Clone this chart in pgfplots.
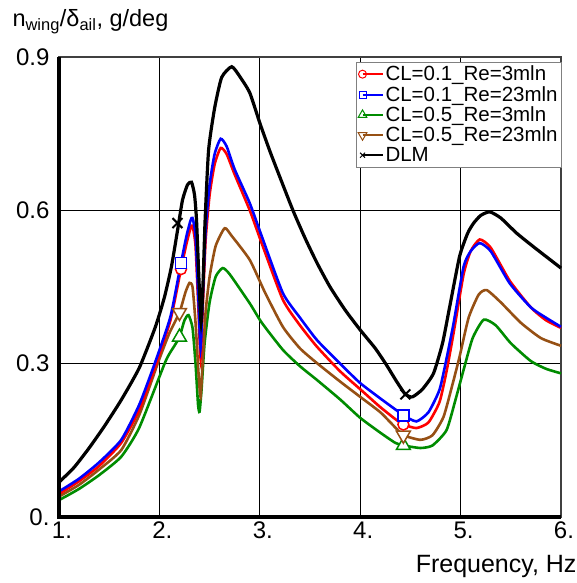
\documentclass[border=0pt]{standalone}
\usepackage{pgfplots}
\pgfplotsset{compat=1.18}
\usepackage{fontspec}
\setmainfont{Liberation Sans}
\definecolor{cgreen}{RGB}{0,140,0}
\definecolor{cbrown}{RGB}{150,80,20}
\pgfplotstableread{
x y
1.00 0.068
1.15 0.097
1.30 0.135
1.45 0.177
1.62 0.229
1.80 0.292
1.96 0.372
2.05 0.430
2.12 0.490
2.18 0.560
2.23 0.620
2.28 0.650
2.32 0.655
2.35 0.630
2.37 0.580
2.395 0.460
2.415 0.380
2.435 0.460
2.455 0.580
2.49 0.718
2.55 0.800
2.62 0.860
2.72 0.881
2.80 0.862
2.90 0.830
3.00 0.771
3.10 0.716
3.20 0.665
3.33 0.600
3.45 0.546
3.57 0.497
3.70 0.450
3.85 0.405
4.00 0.366
4.15 0.330
4.26 0.298
4.36 0.266
4.45 0.240
4.52 0.235
4.62 0.250
4.73 0.281
4.82 0.340
4.89 0.410
4.99 0.510
5.07 0.555
5.13 0.575
5.20 0.590
5.29 0.597
5.40 0.585
5.56 0.555
5.75 0.525
6.00 0.487
}\dlm
\pgfplotstableread{
x y
1.00 0.050
1.20 0.075
1.40 0.107
1.62 0.151
1.80 0.220
1.96 0.304
2.11 0.392
2.215 0.497
2.27 0.550
2.31 0.580
2.33 0.585
2.36 0.550
2.39 0.420
2.41 0.330
2.43 0.420
2.46 0.560
2.50 0.650
2.55 0.710
2.61 0.740
2.67 0.725
2.75 0.680
2.90 0.614
3.02 0.549
3.23 0.438
3.40 0.390
3.57 0.346
3.80 0.300
4.00 0.262
4.20 0.232
4.36 0.209
4.43 0.199
4.56 0.187
4.68 0.205
4.79 0.249
4.86 0.310
4.93 0.379
5.03 0.490
5.10 0.520
5.19 0.536
5.30 0.520
5.49 0.457
5.70 0.410
5.85 0.390
6.00 0.372
}\blueA
\pgfplotstableread{
x y
1.00 0.045
1.20 0.070
1.40 0.100
1.62 0.145
1.80 0.210
1.96 0.295
2.11 0.385
2.215 0.485
2.27 0.535
2.31 0.565
2.33 0.570
2.36 0.530
2.39 0.400
2.41 0.310
2.43 0.400
2.46 0.540
2.50 0.630
2.55 0.690
2.61 0.722
2.67 0.710
2.75 0.670
2.90 0.600
3.02 0.535
3.23 0.425
3.40 0.375
3.57 0.333
3.80 0.285
4.00 0.250
4.20 0.215
4.36 0.190
4.43 0.181
4.56 0.174
4.68 0.185
4.79 0.225
4.86 0.285
4.93 0.360
5.03 0.475
5.10 0.520
5.19 0.543
5.30 0.527
5.49 0.462
5.70 0.410
5.85 0.385
6.00 0.370
}\redA
\pgfplotstableread{
x y
1.00 0.040
1.20 0.063
1.40 0.093
1.62 0.131
1.80 0.200
1.99 0.304
2.10 0.360
2.20 0.400
2.26 0.440
2.30 0.458
2.33 0.450
2.36 0.380
2.39 0.280
2.41 0.235
2.43 0.300
2.46 0.400
2.50 0.470
2.56 0.530
2.65 0.565
2.72 0.550
2.90 0.503
3.05 0.440
3.23 0.372
3.40 0.330
3.57 0.301
3.80 0.265
4.00 0.235
4.20 0.205
4.35 0.175
4.43 0.160
4.60 0.151
4.72 0.160
4.83 0.196
4.92 0.260
4.99 0.314
5.08 0.390
5.18 0.435
5.26 0.444
5.40 0.420
5.60 0.380
5.80 0.350
6.00 0.335
}\brownA
\pgfplotstableread{
x y
1.00 0.033
1.20 0.055
1.40 0.082
1.62 0.118
1.80 0.175
2.06 0.304
2.15 0.335
2.20 0.352
2.25 0.385
2.29 0.395
2.33 0.370
2.36 0.300
2.385 0.220
2.40 0.206
2.42 0.250
2.45 0.340
2.50 0.420
2.56 0.470
2.63 0.487
2.70 0.475
2.90 0.418
3.02 0.380
3.23 0.327
3.40 0.295
3.57 0.268
3.80 0.230
4.00 0.194
4.20 0.165
4.35 0.145
4.43 0.140
4.60 0.135
4.72 0.140
4.86 0.170
4.95 0.230
5.03 0.288
5.12 0.350
5.23 0.386
5.35 0.375
5.50 0.340
5.70 0.305
5.85 0.290
6.00 0.281
}\greenA
\begin{document}
\begin{tikzpicture}
\useasboundingbox (-59pt,-66pt) rectangle (517pt,517pt);
\begin{axis}[
 at={(0pt,0pt)}, anchor=south west,
 scale only axis, width=502pt, height=460pt,
 xmin=1, xmax=6, ymin=0, ymax=0.9,
 clip=false,
 xtick={1,2,3,4,5,6}, xticklabels={1.,2.,3.,4.,5.,6.},
 ytick={0,0.3,0.6,0.9}, yticklabels={0.,0.3,0.6,0.9},
 tick style={draw=none},
 grid=major, major grid style={black, line width=1.3pt},
 axis line style={black!75, line width=1.3pt},
 ticklabel style={font=\fontsize{24}{26}\selectfont},
 xticklabel style={yshift=-1pt, xshift=3pt},
 yticklabel style={xshift=-6pt},
 xlabel={Frequency, Hz},
 xlabel style={at={(rel axis cs:1,0)}, anchor=east, xshift=19pt, yshift=-49pt, font=\fontsize{25}{27}\selectfont},
 legend style={at={(rel axis cs:1.002,0.99)}, anchor=north east, draw=gray, line width=0.8pt,
   font=\fontsize{20.5}{23}\selectfont, row sep=0pt, inner sep=2pt, cells={anchor=west}},
 legend image code/.code={\draw[#1, mark indices={1}] plot coordinates {(0pt,0pt) (20pt,0pt)};},
 every axis plot/.append style={smooth, tension=0.35},
]
\addplot[cgreen, line width=2.6pt, forget plot] table {\greenA};
\addplot[cbrown, line width=2.6pt, forget plot] table {\brownA};
\addplot[red, line width=2.6pt, forget plot] table {\redA};
\addplot[blue, line width=2.6pt, forget plot] table {\blueA};
\addplot[black, line width=3.2pt, forget plot] table {\dlm};
\addplot[cgreen, only marks, mark=triangle*, mark size=8pt, mark options={fill=white, line width=1.5pt}, forget plot] coordinates {(2.20,0.352) (4.43,0.140)};
\addplot[cbrown, only marks, mark=triangle*, mark size=8pt, mark options={fill=white, line width=1.5pt, rotate=180}, forget plot] coordinates {(2.20,0.400) (4.43,0.160)};
\addplot[red, only marks, mark=*, mark size=5.5pt, mark options={fill=white, line width=1.5pt}, forget plot] coordinates {(2.215,0.485) (4.43,0.181)};
\addplot[blue, only marks, mark=square*, mark size=5.5pt, mark options={fill=white, line width=1.5pt}, forget plot] coordinates {(2.215,0.497) (4.43,0.199)};
\addplot[black, only marks, mark=x, mark size=7pt, mark options={line width=2pt}, forget plot] coordinates {(2.18,0.575) (4.45,0.240)};
\draw[black, line width=3.8pt] (rel axis cs:0,1) -- (rel axis cs:0,0) -- (rel axis cs:1,0);
\addlegendimage{red, line width=2pt, mark=o, mark size=4pt, mark options={line width=1pt}}
\addlegendentry{CL=0.1\_Re=3mln}
\addlegendimage{blue, line width=2pt, mark=square, mark size=3.5pt, mark options={line width=1pt}}
\addlegendentry{CL=0.1\_Re=23mln}
\addlegendimage{cgreen, line width=2pt, mark=triangle, mark size=5pt, mark options={line width=1pt}}
\addlegendentry{CL=0.5\_Re=3mln}
\addlegendimage{cbrown, line width=2pt, mark=triangle, mark size=5pt, mark options={line width=1pt, rotate=180}}
\addlegendentry{CL=0.5\_Re=23mln}
\addlegendimage{black, line width=2pt, mark=x, mark size=3.5pt, mark options={line width=1pt}}
\addlegendentry{DLM}
\end{axis}
\node[anchor=west, font=\fontsize{23.5}{25}\selectfont] at (-50pt,495pt) {n\textsubscript{wing}/δ\textsubscript{ail}, g/deg};
\end{tikzpicture}
\end{document}
